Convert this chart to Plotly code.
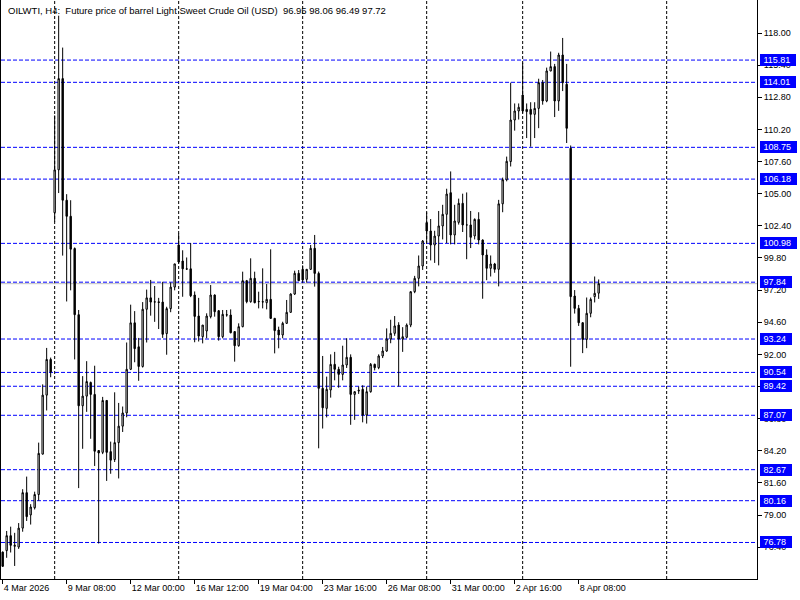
import plotly.graph_objects as go

# ---------------- data ----------------
bar_index = list(range(150))

opens = [76.00, 76.12, 77.33, 76.47, 76.41, 77.94, 80.81, 79.01, 79.59, 80.66,
         83.93, 88.70, 91.59, 103.46, 106.93, 114.31, 104.47, 103.17, 100.56, 95.21,
         87.84, 88.62, 89.72, 88.76, 84.22, 84.07, 88.27, 84.13, 83.49, 84.86,
         86.19, 87.26, 90.79, 94.55, 92.61, 91.02, 95.65, 96.57, 96.23, 96.25,
         96.23, 93.68, 95.70, 97.44, 100.85, 99.55, 98.92, 98.92, 96.80, 95.10,
         93.43, 93.89, 95.05, 96.80, 95.53, 93.43, 95.18, 95.18, 93.84, 92.70,
         94.24, 97.96, 96.26, 98.15, 96.26, 96.26, 96.18, 96.45, 94.91, 93.97,
         93.57, 94.51, 95.40, 96.88, 98.56, 98.88, 98.07, 98.88, 100.58, 98.55,
         89.25, 87.63, 89.12, 91.19, 90.79, 90.38, 91.14, 91.76, 88.76, 89.10,
         89.17, 87.09, 88.98, 91.19, 90.92, 91.87, 92.27, 93.24, 93.70, 94.37,
         93.24, 93.38, 94.37, 97.07, 98.15, 99.15, 102.66, 101.98, 100.85, 101.57,
         102.39, 103.33, 105.08, 101.66, 102.68, 104.22, 102.47, 102.47, 101.58, 102.92,
         101.25, 100.04, 98.96, 99.31, 98.88, 104.18, 106.13, 107.60, 110.96, 111.69,
         112.98, 111.82, 111.82, 111.42, 111.90, 113.98, 112.50, 114.93, 115.28, 112.50,
         116.22, 113.85, 108.67, 96.72, 95.72, 94.56, 93.21, 95.32, 96.67, 96.95]

highs = [76.05, 77.71, 78.06, 77.56, 78.35, 81.09, 82.11, 79.88, 80.89, 84.86,
         89.57, 92.52, 91.74, 111.33, 119.40, 116.82, 104.96, 104.47, 100.65, 95.59,
         90.24, 91.45, 89.80, 91.08, 84.25, 88.56, 88.30, 84.94, 88.93, 88.07,
         87.78, 92.96, 96.02, 95.50, 93.33, 96.23, 97.24, 98.02, 97.53, 96.57,
         97.87, 95.85, 97.82, 99.32, 101.78, 100.42, 99.84, 101.00, 97.09, 96.57,
         94.37, 95.32, 97.61, 96.85, 95.59, 95.59, 95.59, 95.64, 93.87, 94.51,
         98.69, 98.02, 99.77, 98.69, 97.07, 98.96, 97.69, 100.50, 94.95, 94.24,
         94.64, 96.40, 96.94, 98.77, 98.82, 99.20, 98.90, 100.85, 101.66, 98.70,
         91.87, 90.20, 92.00, 92.20, 91.00, 92.70, 93.30, 92.00, 89.00, 89.40,
         89.50, 89.40, 91.30, 91.25, 92.00, 92.60, 94.10, 94.80, 95.10, 94.60,
         94.20, 94.50, 97.10, 98.35, 100.00, 101.25, 103.49, 102.95, 102.00, 103.60,
         104.10, 105.40, 106.80, 104.10, 104.60, 105.00, 105.10, 103.60, 103.00, 103.50,
         101.30, 100.50, 100.00, 99.40, 104.50, 106.30, 108.00, 113.98, 112.30, 112.30,
         115.60, 112.30, 112.40, 112.40, 114.30, 114.20, 115.20, 116.50, 115.50, 116.40,
         117.60, 115.50, 108.90, 97.20, 96.00, 94.60, 96.60, 96.60, 98.30, 98.06]

lows = [74.80, 75.54, 75.97, 74.88, 76.26, 77.65, 78.52, 78.23, 79.45, 80.17,
        83.90, 87.46, 90.15, 102.73, 105.05, 99.99, 96.28, 97.18, 91.59, 81.18,
        84.36, 87.35, 85.17, 82.97, 76.70, 83.93, 81.76, 82.34, 83.29, 81.96,
        85.72, 86.91, 90.73, 91.36, 89.86, 90.93, 92.96, 95.13, 94.63, 94.05,
        93.33, 91.97, 95.41, 97.18, 99.35, 96.66, 98.83, 96.63, 92.98, 93.04,
        92.89, 93.30, 94.91, 95.05, 93.11, 93.30, 95.05, 93.70, 91.41, 92.62,
        94.19, 96.13, 96.18, 96.13, 95.72, 95.72, 95.64, 94.86, 92.08, 92.49,
        93.30, 94.46, 95.37, 96.80, 97.94, 97.80, 97.80, 98.83, 97.48, 84.40,
        86.00, 86.90, 88.50, 89.90, 89.30, 89.90, 90.90, 86.30, 86.70, 88.80,
        86.50, 86.40, 88.90, 90.70, 90.80, 91.70, 92.20, 92.90, 93.50, 89.40,
        92.20, 93.30, 94.20, 96.95, 97.50, 98.83, 101.04, 99.60, 99.40, 99.20,
        101.30, 101.00, 100.90, 100.90, 102.50, 101.90, 99.70, 100.60, 101.30, 100.90,
        96.50, 98.00, 98.30, 98.60, 97.50, 103.50, 106.00, 107.20, 110.10, 111.00,
        111.50, 109.50, 108.80, 109.50, 110.30, 112.20, 112.40, 114.90, 111.20, 111.70,
        113.30, 109.10, 91.00, 95.30, 94.30, 92.10, 92.50, 95.00, 96.20, 96.49]

closes = [74.85, 77.33, 76.55, 76.55, 77.94, 80.81, 78.87, 79.65, 80.66, 83.99,
          88.70, 91.59, 90.58, 106.93, 114.31, 104.47, 103.17, 100.51, 95.21, 87.84,
          88.62, 89.80, 88.76, 84.16, 84.02, 88.27, 84.07, 83.44, 84.86, 86.19,
          87.26, 90.79, 94.55, 92.46, 91.02, 95.65, 96.57, 96.23, 96.25, 96.20,
          93.62, 95.70, 97.44, 99.32, 99.47, 98.92, 98.90, 96.74, 95.07, 93.48,
          94.37, 95.10, 96.80, 95.45, 93.43, 95.24, 95.20, 93.75, 92.70, 94.24,
          97.96, 96.26, 98.15, 96.18, 96.28, 96.24, 96.45, 94.91, 93.92, 93.57,
          94.51, 95.40, 96.88, 98.56, 97.96, 98.02, 98.88, 100.58, 98.55, 89.25,
          87.68, 89.17, 91.19, 90.79, 90.38, 91.14, 91.76, 88.76, 88.98, 89.05,
          87.09, 88.98, 91.19, 90.92, 91.87, 92.27, 93.24, 93.70, 94.30, 93.24,
          93.43, 94.37, 97.07, 98.15, 99.15, 101.17, 101.98, 100.85, 101.57, 102.39,
          103.33, 104.97, 101.66, 102.79, 104.22, 102.47, 102.47, 101.47, 102.92, 101.25,
          100.04, 98.96, 99.31, 98.88, 104.18, 106.13, 107.62, 110.96, 111.69, 111.99,
          111.69, 111.64, 111.42, 111.90, 113.98, 112.50, 114.93, 115.28, 112.50, 116.22,
          113.98, 110.29, 96.67, 95.72, 94.56, 93.21, 95.32, 96.45, 96.94, 97.72]

level_prices = [115.81, 114.01, 108.75, 106.18, 100.98, 97.84, 93.24, 90.54,
                89.42, 87.07, 82.67, 80.16, 76.78]
level_labels = ["115.81", "114.01", "108.75", "106.18", "100.98", "97.84", "93.24",
                "90.54", "89.42", "87.07", "82.67", "80.16", "76.78"]
bid_price = 97.72

price_ticks = [118.00, 115.40, 112.80, 110.20, 107.60, 105.00, 102.40, 99.80, 97.20,
               94.60, 92.00, 89.40, 86.80, 84.20, 81.60, 79.00, 76.40]
price_tick_labels = ["118.00", "115.40", "112.80", "110.20", "107.60", "105.00", "102.40",
                     "99.80", "97.20", "94.60", "92.00", "89.40", "86.80", "84.20",
                     "81.60", "79.00", "76.40"]

time_tick_bars = [0, 16, 32, 48, 64, 80, 96, 112, 128, 144]
time_tick_labels = ["4 Mar 2026", "9 Mar 08:00", "12 Mar 00:00", "16 Mar 12:00",
                    "19 Mar 04:00", "23 Mar 16:00", "26 Mar 08:00", "31 Mar 00:00",
                    "2 Apr 16:00", "8 Apr 08:00"]
grid_bars = [13, 44, 75, 106, 130, 166]

title_text = ("OILWTI, H4:\u00a0\u00a0Future price of barrel Light Sweet Crude Oil (USD)"
              "\u00a0\u00a096.95 98.06 96.49 97.72")

# ---------------- figure ----------------
FONT = "Liberation Sans, Arial, sans-serif"
PLOT_L, PLOT_R = 1, 757  # pixel extents of plot area
PLOT_W = PLOT_R - PLOT_L

fig = go.Figure(go.Candlestick(
    x=bar_index, open=opens, high=highs, low=lows, close=closes,
    increasing=dict(line=dict(color="black", width=1), fillcolor="white"),
    decreasing=dict(line=dict(color="black", width=1), fillcolor="black"),
    whiskerwidth=0, hoverinfo="skip", showlegend=False,
))

shapes = []
for g in grid_bars:
    shapes.append(dict(type="line", xref="x", yref="paper", x0=g, x1=g, y0=0, y1=1,
                       line=dict(color="black", width=1, dash="3px,2px"), layer="below"))
shapes.append(dict(type="line", xref="paper", yref="y", x0=0, x1=1, y0=bid_price, y1=bid_price,
                   line=dict(color="#C0C0C0", width=1), layer="below"))
for p in level_prices:
    shapes.append(dict(type="line", xref="paper", yref="y", x0=0, x1=1, y0=p, y1=p,
                       line=dict(color="#0000FF", width=1, dash="4px,2px"), layer="below"))

annotations = []
for p, lab in zip(level_prices, level_labels):
    annotations.append(dict(
        xref="paper", yref="y", x=(760 - PLOT_L) / PLOT_W, y=p, xanchor="left", yanchor="middle",
        text="\u00a0" + lab + "\u00a0\u00a0", showarrow=False, bgcolor="#0000FF",
        borderpad=0, borderwidth=1, bordercolor="#0000FF",
        font=dict(family=FONT, size=9, color="white")))
annotations.append(dict(
    xref="paper", yref="paper", x=(6 - PLOT_L) / PLOT_W, y=1 - 10 / 579, xanchor="left",
    yanchor="middle", text=title_text, showarrow=False,
    font=dict(family=FONT, size=9.5, color="black")))

fig.update_layout(
    width=800, height=600,
    margin=dict(l=PLOT_L, r=800 - PLOT_R, t=0, b=21, pad=0),
    paper_bgcolor="white", plot_bgcolor="white",
    showlegend=False, boxgap=0.5,
    shapes=shapes, annotations=annotations,
    xaxis=dict(
        range=[(PLOT_L - 2.67) / 4, (PLOT_R - 2.67) / 4],
        rangeslider=dict(visible=False), showgrid=False, zeroline=False,
        showline=True, linecolor="black", linewidth=1,
        ticks="outside", ticklen=4, tickcolor="black", tickwidth=1,
        tickvals=time_tick_bars, ticktext=time_tick_labels,
        ticklabelposition="outside right",
        tickfont=dict(family=FONT, size=9, color="black"), fixedrange=True,
    ),
    yaxis=dict(
        side="right", range=[118 - 546 / 12.36, 118 + 33 / 12.36],
        showgrid=False, zeroline=False, showline=True, mirror=True,
        linecolor="black", linewidth=1,
        ticks="outside", ticklen=4, tickcolor="black", tickwidth=1,
        tickvals=price_ticks, ticktext=price_tick_labels,
        tickfont=dict(family=FONT, size=9, color="black"), fixedrange=True,
    ),
)

fig.write_html("out.html", config={"displayModeBar": False},
               post_script="document.body.style.margin='0';document.body.style.overflow='hidden';")
